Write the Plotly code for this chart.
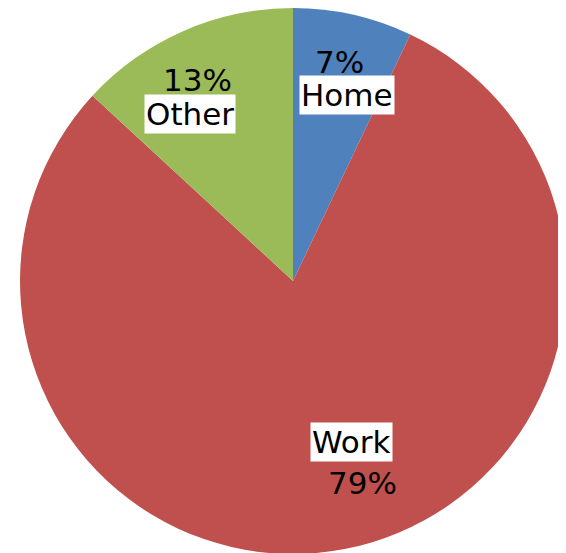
import plotly.graph_objects as go

# Data
categories = ["Home", "Work", "Other"]
shares = [7, 79, 13]
colors = ["#4F81BD", "#C0504D", "#9BBB59"]

# Layout / style constants (not data)
W, H = 566, 553
PAGE_OFFSET = 8  # default body margin of the html page
# label centres in page pixels (x from left, y from top)
name_pos = {"Home": (347, 95), "Work": (351, 442), "Other": (190, 114)}
pct_pos = {"Home": (340, 62), "Work": (362, 483), "Other": (197, 80)}


def to_paper(px, py):
    return (px - PAGE_OFFSET) / W, 1 - (py - PAGE_OFFSET) / H


fig = go.Figure(
    go.Pie(
        labels=categories,
        values=shares,
        sort=False,
        direction="clockwise",
        rotation=0,
        marker=dict(colors=colors, line=dict(width=0)),
        textinfo="none",
        hoverinfo="label+percent",
        showlegend=False,
        domain=dict(x=[0.0212, 0.9859], y=[0.0127, 1.0]),
    )
)

font = dict(family="DejaVu Sans", size=31, color="#000000")
annotations = []
for cat, val in zip(categories, shares):
    nx, ny = to_paper(*name_pos[cat])
    px, py = to_paper(*pct_pos[cat])
    annotations.append(dict(
        x=nx, y=ny, xref="paper", yref="paper",
        text=cat, showarrow=False, font=font,
        bgcolor="#FFFFFF", borderpad=1, xanchor="center", yanchor="middle",
    ))
    annotations.append(dict(
        x=px, y=py, xref="paper", yref="paper",
        text=f"{val}%", showarrow=False, font=font,
        xanchor="center", yanchor="middle",
    ))

fig.update_layout(
    width=W, height=H,
    margin=dict(l=0, r=0, t=0, b=0),
    paper_bgcolor="#FFFFFF",
    plot_bgcolor="#FFFFFF",
    annotations=annotations,
)

fig.write_html("out.html")
